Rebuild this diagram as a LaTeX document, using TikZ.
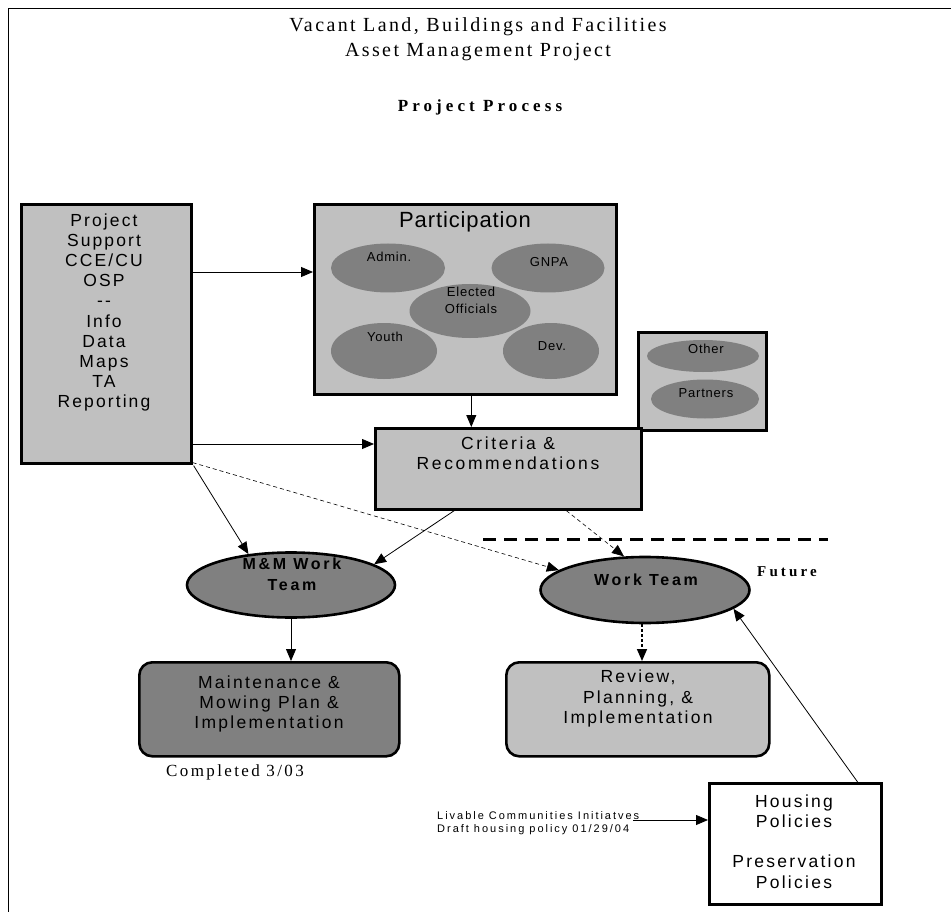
\documentclass[tikz,border=0pt]{standalone}
\usepackage{fontspec}
\setmainfont{Liberation Serif}
\setsansfont{Liberation Sans}
\newfontfamily\sansSup[LetterSpace=12]{Liberation Sans}
\newfontfamily\sansCrit[LetterSpace=15]{Liberation Sans}
\newfontfamily\sansMain[LetterSpace=13]{Liberation Sans}
\newfontfamily\sansEll[LetterSpace=6]{Liberation Sans}
\newfontfamily\sansBold[LetterSpace=17]{Liberation Sans}
\newfontfamily\sansPart[LetterSpace=4]{Liberation Sans}
\newfontfamily\sansLiv[LetterSpace=18]{Liberation Sans}
\newfontfamily\serifTitle[LetterSpace=12]{Liberation Serif}
\newfontfamily\serifProc[LetterSpace=24]{Liberation Serif}
\newfontfamily\serifFut[LetterSpace=21]{Liberation Serif}
\newfontfamily\serifComp[LetterSpace=14]{Liberation Serif}
\usetikzlibrary{arrows.meta,calc,shapes.geometric}
\definecolor{lg}{HTML}{C0C0C0}
\definecolor{dg}{HTML}{808080}
\tikzset{
  x=1pt,y=-1pt,
  boxsq/.style={draw, line width=2.6pt, fill=lg, rectangle, inner sep=0pt, anchor=north west},
  boxrd/.style={boxsq, rounded corners=13pt},
  oval/.style={ellipse, fill=dg, draw=none, inner sep=0pt},
  ovalbd/.style={ellipse, fill=dg, draw, line width=2.6pt, inner sep=0pt},
  txt/.style={inner sep=0pt, align=center},
  arr/.style={-{Triangle[length=12pt,width=10pt]}, line width=0.8pt},
  darr/.style={arr, dash pattern=on 4pt off 3pt, line width=0.6pt},
}
\begin{document}
\begin{tikzpicture}
\useasboundingbox (0,0) rectangle (951,912);
% frame
\draw[line width=0.8pt] (8,912) -- (8,8) -- (951,8);
% titles
\node[txt, font={\fontsize{20}{25}\serifTitle}] (t1) at (478,39.5) {Vacant Land, Buildings and Facilities\\Asset Management Project};
\node[txt, font={\fontsize{17}{20}\serifProc\bfseries}] (t2) at (480,107) {Project Process};
% boxes
\node[boxsq, minimum width=170pt, minimum height=259pt] (sup) at (20,203) {};
\node[boxsq, minimum width=302pt, minimum height=190pt] (part) at (313,203) {};
\node[boxsq, minimum width=128pt, minimum height=98pt] (oth) at (637,331) {};
\node[boxsq, minimum width=266pt, minimum height=81pt] (crit) at (374,427) {};
\node[boxrd, fill=dg, minimum width=260pt, minimum height=94pt] (maint) at (138,661) {};
\node[boxrd, minimum width=263pt, minimum height=94pt] (rev) at (505,661) {};
\node[boxsq, fill=white, minimum width=172pt, minimum height=121pt] (hous) at (708,782) {};
% inner ellipses
\node[oval, minimum width=114pt, minimum height=49pt] (eadm) at (388,268) {};
\node[oval, minimum width=113pt, minimum height=49pt] (egn) at (548,268) {};
\node[oval, minimum width=106pt, minimum height=56pt] (eyo) at (384,351) {};
\node[oval, minimum width=96pt, minimum height=56pt] (edev) at (551,351) {};
\node[oval, minimum width=121pt, minimum height=54pt] (eel) at (470,311) {};
\node[oval, minimum width=112pt, minimum height=32pt] (eoth) at (703,356) {};
\node[oval, minimum width=108pt, minimum height=39pt] (epar) at (705,399) {};
% work team ellipses
\node[ovalbd, minimum width=208pt, minimum height=65pt] (mm) at (291,585) {};
\node[ovalbd, minimum width=209pt, minimum height=66pt] (wt) at (645,590) {};
% texts
\node[txt, font={\fontsize{17.5}{20.1}\sansSup}] (supt) at (104,312.5) {Project\\Support\\CCE/CU\\OSP\\--\\Info\\Data\\Maps\\TA\\Reporting};
\node[txt, font={\fontsize{22}{26}\sansPart}] (partt) at (465,222) {Participation};
\node[txt, font={\fontsize{13}{15}\sansEll}] (admt) at (389,257) {Admin.};
\node[txt, font={\fontsize{13}{15}\sansEll}] (gnt) at (549,262) {GNPA};
\node[txt, font={\fontsize{13}{17}\sansEll}] (elt) at (471,300) {Elected\\Officials};
\node[txt, font={\fontsize{13}{15}\sansEll}] (yot) at (385,337) {Youth};
\node[txt, font={\fontsize{13}{15}\sansEll}] (devt) at (552,346) {Dev.};
\node[txt, font={\fontsize{13}{15}\sansEll}] (otht) at (706,349) {Other};
\node[txt, font={\fontsize{13}{15}\sansEll}] (part2) at (706,393) {Partners};
\node[txt, font={\fontsize{17.5}{20}\sansCrit}] (critt) at (508,453) {Criteria \&\\Recommendations};
\node[txt, font={\fontsize{16}{21}\sansBold\bfseries}] (mmt) at (292,574.5) {M\&M Work\\Team};
\node[txt, font={\fontsize{16}{18}\sansBold\bfseries}] (wtt) at (646,580) {Work Team};
\node[txt, anchor=west, font={\fontsize{15}{17}\serifFut\bfseries}] (fut) at (757,572) {Future};
\node[txt, font={\fontsize{17.5}{20}\sansMain}] (maintt) at (269,704) {Maintenance \&\\Mowing Plan \&\\Implementation};
\node[txt, font={\fontsize{17.5}{20.5}\sansMain}] (revt) at (638,698.5) {Review,\\Planning, \&\\Implementation};
\node[txt, font={\fontsize{17.5}{20.2}\sansMain}] (houst) at (794,841.5) {Housing\\Policies\\[20.2pt]Preservation\\Policies};
\node[txt, font={\fontsize{17}{19}\serifComp}] (comp) at (235,772) {Completed 3/03};
\node[txt, anchor=west, align=left, font={\fontsize{11}{13}\sansLiv}] (liv) at (437,823.5) {Livable Communities Initiatves\\Draft housing policy 01/29/04};
\coordinate (livend) at (633,820);
\coordinate (fl) at (483,539);
\coordinate (fr) at (828,539);
% future divider
\draw[line width=3pt, dash pattern=on 13pt off 8pt] (fl) -- (fr);
% connectors
\draw[arr] ($(sup.north east)+(0,69)$) -- ($(part.north west)+(0,69)$);
\draw[arr] ($(sup.north east)+(0,241)$) -- ($(crit.north west)+(0,17)$);
\draw[arr] ($(part.south)+(6,0)$) -- ($(crit.north)+(-37,0)$);
\draw[arr] ($(sup.south east)+(1,1)$) -- (mm.144);
\draw[arr] ($(crit.south)+(-54,0)$) -- (mm.14);
\draw[darr] ($(sup.south east)+(0,-2)$) -- (wt.167);
\draw[darr] ($(crit.south)+(58,0)$) -- (wt.122);
\draw[arr] (mm.south) -- (mm.south |- maint.north);
\draw[arr, dash pattern=on 3pt off 2pt, line width=1.6pt] ($(wt.south)+(-3,0)$) -- ($(wt.south |- rev.north)+(-3,0)$);
\draw[arr] ($(hous.north east)+(-25,0)$) -- (wt.-12);
\draw[arr] (livend) -- ($(hous.north west)+(0,38)$);
\end{tikzpicture}
\end{document}
